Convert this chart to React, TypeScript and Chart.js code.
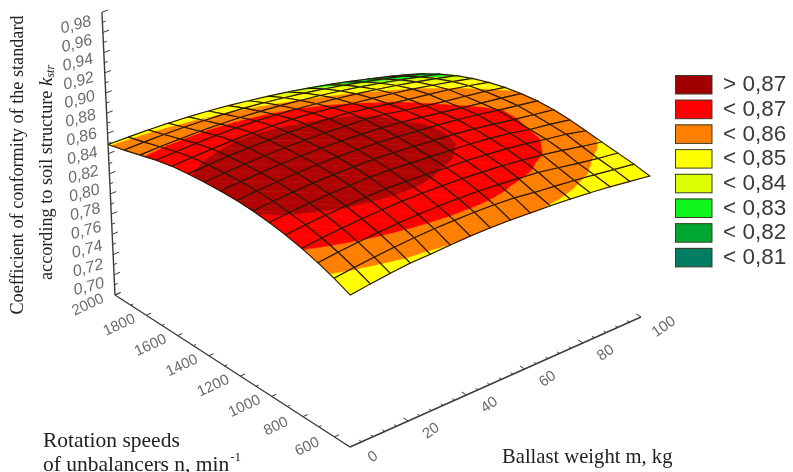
import React, { useEffect, useRef } from "react";
import { Chart, registerables } from "chart.js";

Chart.register(...registerables);

// ---------- data ----------
const nValues = [2000, 1900, 1800, 1700, 1600, 1500, 1400, 1300, 1200, 1100, 1000, 900, 800, 700, 600, 500];
const mValues = [0, 6.667, 13.333, 20, 26.667, 33.333, 40, 46.667, 53.333, 60, 66.667, 73.333, 80, 86.667, 93.333, 100];

const k2000 = [.8490,.8485,.8478,.8466,.8450,.8429,.8403,.8372,.8338,.8299,.8255,.8207,.8154,.8096,.8036,.7970];
const k1900 = [.8535,.8536,.8533,.8527,.8516,.8501,.8481,.8456,.8425,.8391,.8352,.8308,.8259,.8206,.8149,.8088];
const k1800 = [.8585,.8590,.8590,.8588,.8581,.8569,.8552,.8530,.8502,.8472,.8436,.8396,.8351,.8302,.8249,.8192];
const k1700 = [.8635,.8641,.8646,.8648,.8645,.8636,.8620,.8598,.8572,.8543,.8511,.8474,.8433,.8387,.8338,.8284];
const k1600 = [.8673,.8684,.8691,.8696,.8695,.8689,.8677,.8658,.8632,.8597,.8568,.8537,.8501,.8458,.8413,.8362];
const k1500 = [.8696,.8708,.8717,.8722,.8722,.8720,.8713,.8702,.8685,.8652,.8612,.8580,.8550,.8515,.8474,.8426];
const k1400 = [.8711,.8725,.8735,.8741,.8744,.8742,.8736,.8726,.8715,.8690,.8650,.8615,.8580,.8550,.8518,.8477];
const k1300 = [.8719,.8735,.8747,.8755,.8758,.8758,.8752,.8742,.8728,.8706,.8677,.8645,.8612,.8580,.8550,.8514];
const k1200 = [.8719,.8737,.8750,.8760,.8765,.8766,.8762,.8750,.8735,.8715,.8695,.8670,.8640,.8605,.8572,.8539];
const k1100 = [.8707,.8726,.8741,.8752,.8759,.8761,.8757,.8746,.8731,.8714,.8695,.8672,.8640,.8605,.8575,.8545];
const k1000 = [.8684,.8705,.8721,.8734,.8742,.8746,.8743,.8730,.8717,.8703,.8690,.8668,.8640,.8598,.8570,.8535];
const k900 = [.8650,.8672,.8690,.8704,.8714,.8719,.8716,.8708,.8697,.8690,.8672,.8652,.8625,.8590,.8560,.8515];
const k800 = [.8605,.8629,.8648,.8664,.8675,.8682,.8684,.8682,.8675,.8662,.8648,.8625,.8600,.8565,.8525,.8490];
const k700 = [.8548,.8574,.8595,.8613,.8626,.8635,.8639,.8639,.8634,.8622,.8605,.8587,.8555,.8520,.8490,.8465];
const k600 = [.8480,.8508,.8531,.8551,.8565,.8576,.8582,.8584,.8582,.8572,.8548,.8530,.8510,.8488,.8462,.8438];
const k500 = [.8400,.8430,.8455,.8477,.8485,.8497,.8508,.8512,.8510,.8502,.8495,.8485,.8470,.8450,.8425,.8400];
const kRows = [k2000,k1900,k1800,k1700,k1600,k1500,k1400,k1300,k1200,k1100,k1000,k900,k800,k700,k600,k500];

const bandLimits = [-Infinity, 0.81, 0.82, 0.83, 0.84, 0.85, 0.86, 0.87, Infinity];
const bandColors = ["#007d62", "#00a832", "#10f51e", "#dcff00", "#ffff00", "#ff8000", "#ff0000", "#b00404"];
const legendLabels = ["< 0,81", "< 0,82", "< 0,83", "< 0,84", "< 0,85", "< 0,86", "< 0,87", "> 0,87"];

const kTicks = [0.70,0.71,0.72,0.73,0.74,0.75,0.76,0.77,0.78,0.79,0.80,0.81,0.82,0.83,0.84,0.85,0.86,0.87,0.88,0.89,0.90,0.91,0.92,0.93,0.94,0.95,0.96,0.97,0.98];
const kLabelTicks = [0.70,0.72,0.74,0.76,0.78,0.80,0.82,0.84,0.86,0.88,0.90,0.92,0.94,0.96,0.98];
const nTicks = [2000,1900,1800,1700,1600,1500,1400,1300,1200,1100,1000,900,800,700,600,500];
const nLabelTicks = [2000,1800,1600,1400,1200,1000,800,600];
const mTicks = [0,4,8,12,16,20,24,28,32,36,40,44,48,52,56,60,64,68,72,76,80,84,88,92,96,100];
const mLabelTicks = [0,20,40,60,80,100];

type P3 = { n: number; m: number; k: number };

// ---------- oblique view with a little depth ----------
function project(p: P3) {
  const u = (2000 - p.n) / 1500;
  const v = p.m / 100;
  const fx = 115 + 235 * u + 291 * v;
  const fy = 295 + 152 * u - 130 * v;
  const w = p.k - 0.7;
  const s = 1010 + 75 * u * u * u - 78 * v;
  return { x: fx + (fx - 340) * 0.058 * (w / 0.28), y: fy - w * s };
}

function clip(poly: P3[], limit: number, keepAbove: boolean): P3[] {
  const out: P3[] = [];
  const inside = (p: P3) => (keepAbove ? p.k >= limit : p.k <= limit);
  for (let i = 0; i < poly.length; i++) {
    const a = poly[i];
    const b = poly[(i + 1) % poly.length];
    const ia = inside(a);
    const ib = inside(b);
    if (ia) out.push(a);
    if (ia !== ib) {
      const t = (limit - a.k) / (b.k - a.k);
      out.push({ n: a.n + (b.n - a.n) * t, m: a.m + (b.m - a.m) * t, k: limit });
    }
  }
  return out;
}

function closed(poly: P3[]) {
  const pts = poly.map(project);
  pts.push(pts[0]);
  return pts;
}

function lineSet(points: P3[], color: string, width: number) {
  return {
    type: "scatter" as const,
    showLine: true,
    fill: false,
    data: points.map(project),
    borderColor: color,
    borderWidth: width,
    pointRadius: 0,
    tension: 0,
  };
}

function buildDatasets() {
  const drawn: any[] = [];
  // back to front
  for (let i = 0; i < nValues.length - 1; i++) {
    for (let j = mValues.length - 2; j >= 0; j--) {
      const a: P3 = { n: nValues[i], m: mValues[j], k: kRows[i][j] };
      const b: P3 = { n: nValues[i], m: mValues[j + 1], k: kRows[i][j + 1] };
      const c: P3 = { n: nValues[i + 1], m: mValues[j + 1], k: kRows[i + 1][j + 1] };
      const d: P3 = { n: nValues[i + 1], m: mValues[j], k: kRows[i + 1][j] };
      for (const tri of [[a, b, c], [a, c, d]]) {
        for (let bd = 0; bd < bandColors.length; bd++) {
          let poly = tri;
          if (isFinite(bandLimits[bd])) poly = clip(poly, bandLimits[bd], true);
          if (poly.length && isFinite(bandLimits[bd + 1])) poly = clip(poly, bandLimits[bd + 1], false);
          if (poly.length < 3) continue;
          drawn.push({
            type: "scatter",
            showLine: true,
            fill: "shape",
            data: closed(poly),
            backgroundColor: bandColors[bd],
            borderColor: bandColors[bd],
            borderWidth: 0.6,
            pointRadius: 0,
            tension: 0,
          });
        }
      }
      drawn.push(lineSet([a, b, c, d, a], "#2a1804", 1.15));
    }
  }
  const axisColor = "#3a3a3a";
  const lo = kTicks[0];
  const hi = kTicks[kTicks.length - 1];
  const n0 = nTicks[0];
  const n1 = nTicks[nTicks.length - 1];
  const m0 = mTicks[0];
  const m1 = mTicks[mTicks.length - 1];
  drawn.push(lineSet([{ n: n0, m: m0, k: lo }, { n: n0, m: m0, k: hi }], axisColor, 1.4));
  drawn.push(lineSet([{ n: n0, m: m0, k: lo }, { n: n1, m: m0, k: lo }], axisColor, 1.4));
  drawn.push(lineSet([{ n: n1, m: m0, k: lo }, { n: n1, m: m1, k: lo }], axisColor, 1.4));
  for (const t of kTicks) {
    const len = kLabelTicks.includes(t) ? 2 : 1.1;
    drawn.push(lineSet([{ n: n0, m: m0, k: t }, { n: n0, m: len, k: t }], axisColor, 1));
  }
  for (const t of nTicks) {
    const len = nLabelTicks.includes(t) ? 1.6 : 0.9;
    drawn.push(lineSet([{ n: t, m: m0, k: lo }, { n: t, m: len, k: lo }], axisColor, 1));
  }
  for (const t of mTicks) {
    const len = mLabelTicks.includes(t) ? 30 : 15;
    drawn.push(lineSet([{ n: n1, m: t, k: lo }, { n: n1 + len, m: t, k: lo }], axisColor, 1));
  }
  // Chart.js paints the last dataset first
  return drawn.reverse();
}

const textPlugin = {
  id: "surfaceText",
  afterDatasetsDraw(chart: any) {
    const { ctx } = chart;
    const sx = chart.scales.x;
    const sy = chart.scales.y;
    const px = (p: P3) => {
      const q = project(p);
      return { x: sx.getPixelForValue(q.x), y: sy.getPixelForValue(q.y) };
    };
    const put = (text: string, x: number, y: number, deg: number, font: string, color: string, align: CanvasTextAlign = "center") => {
      ctx.save();
      ctx.translate(x, y);
      ctx.rotate((deg * Math.PI) / 180);
      ctx.font = font;
      ctx.fillStyle = color;
      ctx.textAlign = align;
      ctx.textBaseline = "middle";
      ctx.fillText(text, 0, 0);
      ctx.restore();
    };
    const grey = "#6b6b6b";
    for (const t of kLabelTicks) {
      const p = px({ n: nTicks[0], m: 0, k: t });
      const w = (t - 0.7) / 0.28;
      put(t.toFixed(2).replace(".", ","), p.x - 26, p.y - 8 + 21 * w, -15, "italic 16px 'Liberation Sans'", grey);
    }
    for (const t of nLabelTicks) {
      const p = px({ n: t, m: 0, k: 0.7 });
      put(String(t), p.x - 27, p.y + 10, -25, "15px 'Liberation Sans'", grey);
    }
    for (const t of mLabelTicks) {
      const p = px({ n: nTicks[nTicks.length - 1], m: t, k: 0.7 });
      put(String(t), p.x + 23, p.y + 10, -35, "15px 'Liberation Sans'", grey);
    }

    // legend, top row is the highest band
    const count = legendLabels.length;
    for (let i = 0; i < count; i++) {
      const band = count - 1 - i;
      const y = 75 + i * 24.7;
      ctx.fillStyle = band === count - 1 ? "#a00000" : bandColors[band];
      ctx.strokeStyle = "#3c3c2c";
      ctx.lineWidth = 1;
      ctx.fillRect(675, y, 37, 19);
      ctx.strokeRect(675.5, y + 0.5, 36.5, 18.5);
      put(legendLabels[band], 723, y + 10, 0, "22.5px 'Liberation Sans'", "#3a3a3a", "left");
    }

    // titles
    const serif = "'Liberation Serif'";
    const ink = "#222222";
    put("Coefficient of conformity of the standard", 18, 165, -90, `18.2px ${serif}`, ink);
    ctx.save();
    ctx.translate(47, 280);
    ctx.rotate(-Math.PI / 2);
    ctx.fillStyle = ink;
    ctx.textBaseline = "middle";
    ctx.textAlign = "left";
    ctx.font = `18.2px ${serif}`;
    const line2 = "according to soil structure ";
    ctx.fillText(line2, 0, 0);
    let cx = ctx.measureText(line2).width;
    ctx.font = `italic 19px ${serif}`;
    ctx.fillText("k", cx, 0);
    cx += ctx.measureText("k").width;
    ctx.font = `italic 12px ${serif}`;
    ctx.fillText("str", cx, 4);
    ctx.restore();

    const captionFont = `21.5px ${serif}`;
    put("Rotation speeds", 43, 441, 0, captionFont, ink, "left");
    put("of unbalancers n, min", 43, 465, 0, captionFont, ink, "left");
    ctx.save();
    ctx.font = captionFont;
    const w2 = ctx.measureText("of unbalancers n, min").width;
    ctx.restore();
    put("-1", 43 + w2 + 1, 458, 0, `13px ${serif}`, ink, "left");
    put("Ballast weight m, kg", 502, 458, 0, `20.6px ${serif}`, ink, "left");
  },
};

export default function App() {
  const ref = useRef<HTMLCanvasElement>(null);
  useEffect(() => {
    if (!ref.current) return;
    const chart = new Chart(ref.current, {
      type: "scatter",
      data: { datasets: buildDatasets() },
      plugins: [textPlugin],
      options: {
        animation: false,
        responsive: false,
        events: [],
        layout: { padding: 0 },
        scales: {
          x: { type: "linear", display: false, min: 0, max: 793 },
          y: { type: "linear", display: false, min: 0, max: 472, reverse: true },
        },
        plugins: { legend: { display: false }, tooltip: { enabled: false } },
      },
    } as any);
    return () => chart.destroy();
  }, []);
  return (
    <div style={{ position: "absolute", left: 0, top: 0, width: 793, height: 472, background: "#fff", overflow: "hidden" }}>
      <canvas ref={ref} width={793} height={472} style={{ display: "block", filter: "blur(0.45px)" }} />
    </div>
  );
}
